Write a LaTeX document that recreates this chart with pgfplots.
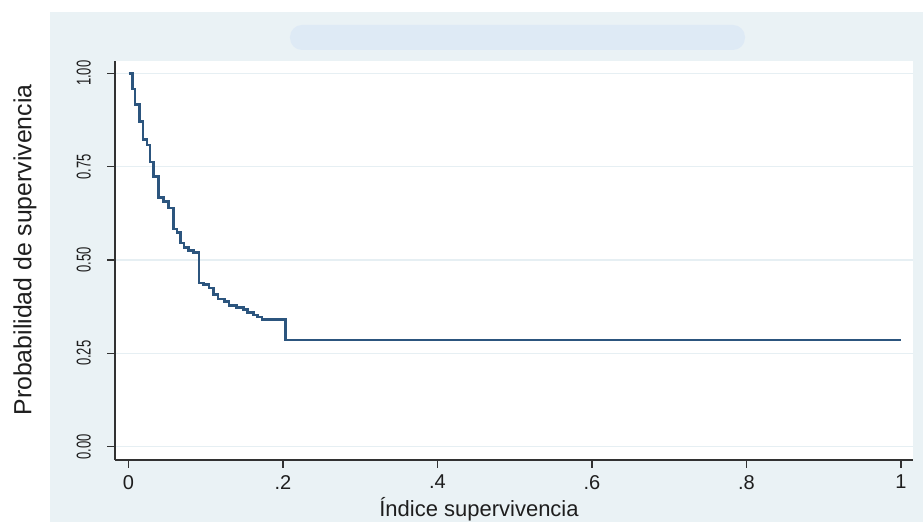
\documentclass[border=0pt]{standalone}
\usepackage{pgfplots}
\pgfplotsset{compat=1.18}
\usepackage{fontspec}
\setmainfont{Liberation Sans}
\usepackage{graphicx}
\definecolor{bgblue}{RGB}{234,242,245}
\definecolor{blob}{RGB}{222,234,245}
\definecolor{gridc}{RGB}{230,239,243}
\definecolor{curve}{RGB}{44,85,126}
\definecolor{axc}{RGB}{50,50,50}
\definecolor{txt}{RGB}{30,30,30}
\newcommand{\cz}[1]{\scalebox{0.65}[1]{#1}}

\pgfplotstableread{
x y
0 1.000
0.005 0.958
0.0085 0.916
0.014 0.871
0.019 0.822
0.024 0.808
0.028 0.762
0.032 0.724
0.039 0.668
0.045 0.657
0.052 0.639
0.058 0.583
0.063 0.574
0.067 0.545
0.072 0.533
0.078 0.526
0.084 0.520
0.091 0.438
0.097 0.434
0.104 0.425
0.110 0.408
0.116 0.396
0.124 0.389
0.130 0.378
0.140 0.372
0.149 0.367
0.154 0.359
0.162 0.353
0.167 0.347
0.173 0.340
0.203 0.286
1.000 0.286
}\survdata

\begin{document}
\begin{tikzpicture}
\useasboundingbox (-57.5pt,-31pt) rectangle (404pt,230pt);
\fill[bgblue] (-32.5pt,-31pt) rectangle (404pt,224pt);
\fill[blob, rounded corners=6pt] (87.5pt,205pt) rectangle (315pt,217.5pt);
\begin{axis}[
  at={(0,0)}, anchor=south west,
  scale only axis, width=399pt, height=199.5pt,
  xmin=-0.0175, xmax=1.0155, ymin=-0.0356, ymax=1.033,
  axis x line*=bottom, axis y line*=left,
  axis line style={axc, line width=0.8pt, -},
  axis background/.style={fill=white},
  tick align=outside, major tick length=4pt,
  tick style={axc, line width=0.8pt},
  xtick={0,0.2,0.4,0.6,0.8,1},
  xticklabels={0,.2,.4,.6,.8,1},
  ytick={0,0.25,0.5,0.75,1},
  yticklabels={\cz{0.00},\cz{0.25},\cz{0.50},\cz{0.75},\cz{1.00}},
  yticklabel style={rotate=90, anchor=south, yshift=4.5pt, font=\fontsize{10}{12}\selectfont, text=txt},
  xticklabel style={font=\fontsize{10}{12}\selectfont, text=txt},
  ymajorgrids, grid style={gridc, line width=0.8pt},
  clip=false,
]
\addplot[const plot, curve, line width=1.3pt] table[x=x, y=y] {\survdata};
\end{axis}
\node[rotate=90, font=\fontsize{12.4}{14}\selectfont, text=txt] at (-45pt,105pt) {Probabilidad de supervivencia};
\node[font=\fontsize{11}{13}\selectfont, text=txt] at (182pt,-24.5pt) {Índice supervivencia};
\end{tikzpicture}
\end{document}
